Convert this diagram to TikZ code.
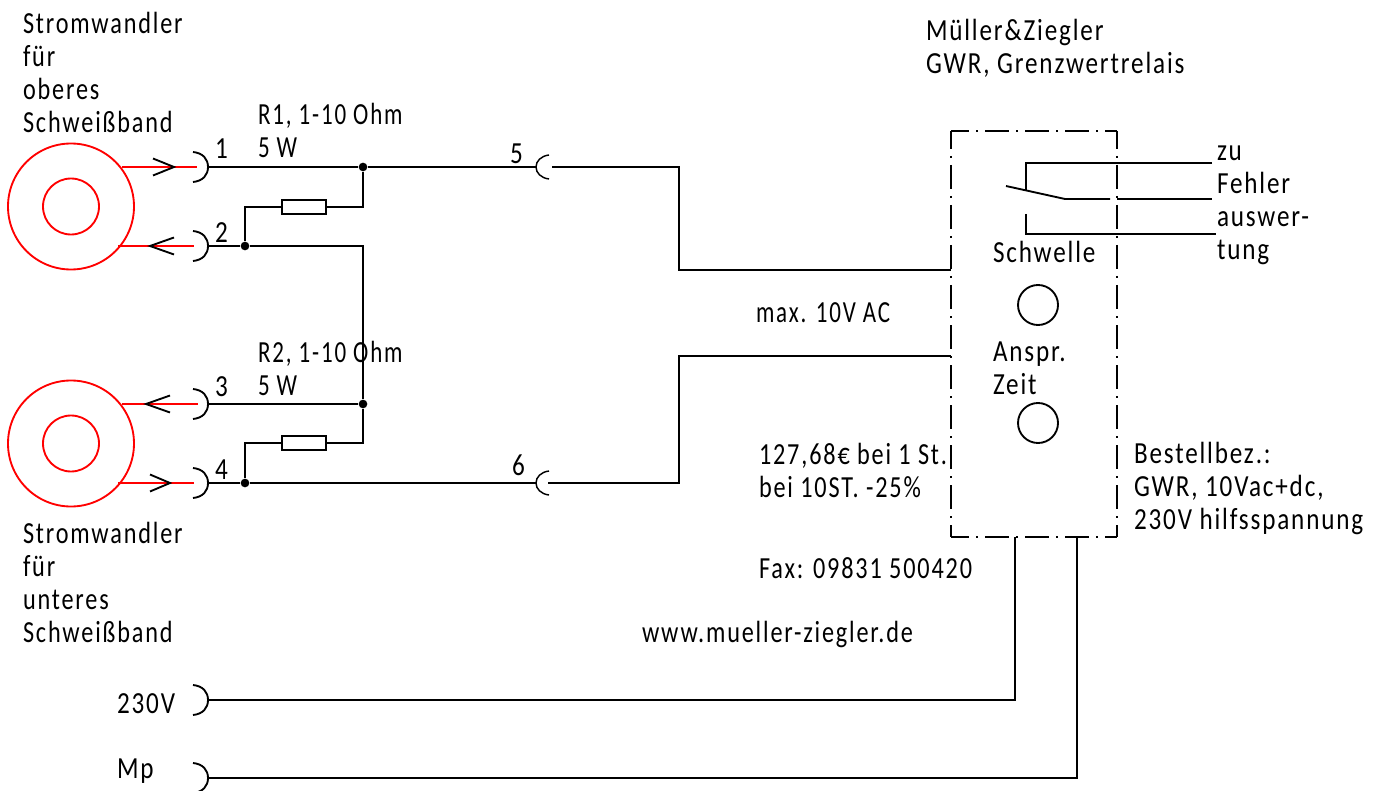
\documentclass[tikz,border=0pt]{standalone}
\usepackage{fontspec}
\setmainfont[LetterSpace=6,FakeStretch=0.82]{Carlito}
\newfontfamily\narrowA[LetterSpace=6,FakeStretch=0.75]{Carlito}
\newfontfamily\narrowB[LetterSpace=6,FakeStretch=0.79]{Carlito}
\tikzset{
  x=0.75pt,y=-0.75pt,
  wire/.style={draw=black,line width=1.4pt,line join=miter},
  redwire/.style={draw=red,line width=1.4pt},
  lbl/.style={inner sep=0pt,outer sep=0pt,anchor=base west,align=left,font=\fontsize{23}{24.75}\selectfont},
  lblA/.style={lbl,font=\fontsize{23}{24.75}\selectfont\narrowA},
  lblB/.style={lbl,font=\fontsize{23}{24.75}\selectfont\narrowB},
  dot/.style={circle,fill=black,inner sep=0pt,minimum size=6.5pt},
  res/.style={rectangle,draw=black,line width=1.4pt,fill=white,minimum width=33pt,minimum height=11pt,inner sep=0pt},
  ring/.style={circle,draw=red,line width=1.4pt,inner sep=0pt},
  knob/.style={circle,draw=black,line width=1.4pt,inner sep=0pt,minimum size=30pt},
  dd/.style={draw=black,line width=1.4pt,dash pattern=on 18pt off 5.25pt on 1.5pt off 5.25pt,dash phase=4.5pt},
}
\newcommand{\plugR}[1]{\draw[wire] ([shift={(193,-15)}]#1) .. controls ([shift={(203,-14)}]#1) and ([shift={(208,-8)}]#1) .. ([shift={(208,0)}]#1) .. controls ([shift={(208,8)}]#1) and ([shift={(203,14)}]#1) .. ([shift={(193,15)}]#1);}
\newcommand{\plugL}[1]{\draw[draw=black,line width=1.1pt] ([shift={(13,-12)}]#1) .. controls ([shift={(5,-11)}]#1) and ([shift={(0,-6)}]#1) .. ([shift={(0,0)}]#1) .. controls ([shift={(0,6)}]#1) and ([shift={(5,11)}]#1) .. ([shift={(13,12)}]#1);}
\begin{document}
\begin{tikzpicture}
\useasboundingbox (0,0) rectangle (1383,791);
\clip (0,0) rectangle (1383,791);
% rings
\node[ring,minimum size=94.5pt] (ringA) at (71,206.5) {};
\node[ring,minimum size=42pt] (coreA) at (71,206.5) {};
\node[ring,minimum size=94.5pt] (ringB) at (71,443.5) {};
\node[ring,minimum size=42pt] (coreB) at (71,443.5) {};
% terminal coordinates
\coordinate (y1) at (0,167); \coordinate (y2) at (0,246);
\coordinate (y3) at (0,404); \coordinate (y4) at (0,483);
\coordinate (y5) at (0,700); \coordinate (y6) at (0,778);
\coordinate (t1) at (208,167); \coordinate (t2) at (208,246);
\coordinate (t3) at (208,404); \coordinate (t4) at (208,483);
\coordinate (t5) at (208,700); \coordinate (t6) at (208,778);
\plugR{y1}\plugR{y2}\plugR{y3}\plugR{y4}\plugR{y5}\plugR{y6}
% red leads
\coordinate (r1a) at (122,167); \coordinate (r1b) at (197,167);
\coordinate (r2a) at (118,246); \coordinate (r2b) at (194,246);
\coordinate (r3a) at (122,404); \coordinate (r3b) at (198,404);
\coordinate (r4a) at (118,483); \coordinate (r4b) at (194,483);
\draw[redwire] (r1a)--(r1b);
\draw[redwire] (r2a)--(r2b);
\draw[redwire] (r3a)--(r3b);
\draw[redwire] (r4a)--(r4b);
% arrows
\draw[wire] (153,158.5)--(174,167)--(153,175.5);
\draw[wire] (174,237.5)--(150,246)--(174,254.5);
\draw[wire] (170,395.5)--(146,404)--(170,412.5);
\draw[wire] (150,474.5)--(170,483)--(150,491.5);
% junctions
\node[dot] (j1) at (363,167) {};
\node[dot] (j2) at (245,246) {};
\node[dot] (j3) at (363,404) {};
\node[dot] (j4) at (245,483) {};
\node[res] (R1) at (304,207) {};
\node[res] (R2) at (304,443) {};
% plug sockets
\coordinate (s5) at (536,167); \coordinate (s6) at (536,483);
\coordinate (s5b) at (552,167); \coordinate (s6b) at (548,483);
\plugL{s5}\plugL{s6}
% box
\coordinate (bNW) at (951,131); \coordinate (bNE) at (1117,131);
\coordinate (bSW) at (951,537); \coordinate (bSE) at (1117,537);
\draw[dd] (bNW)--(bNE);
\draw[dd] (bNW)--(bSW);
\draw[dd] (bNE)--(bSE);
\draw[dd] (bSW)--(bSE);
% wires
\draw[wire] (t1)--(j1)--(s5);
\draw[wire] (s5b)-|(679,270)--(951,270);
\draw[wire] (j1)|-(R1.east);
\draw[wire] (R1.west)-|(j2);
\draw[wire] (t2)--(j2)--(363,246)--(j3);
\draw[wire] (t3)--(j3);
\draw[wire] (j3)|-(R2.east);
\draw[wire] (R2.west)-|(j4);
\draw[wire] (t4)--(j4)--(s6);
\draw[wire] (s6b)-|(679,356)--(951,356);
\draw[draw=black,line width=1.9pt] (753,356)--(849,356);
\draw[wire] (t5)-|(1015,537);
\draw[wire] (t6)-|(1077,537);
% switch
\draw[wire] (1212,163)--(1026,163)--(1026,190);
\draw[wire] (1006,186)--(1065,199)--(1110,199);
\draw[wire] (1117,199)--(1212,199);
\draw[wire] (1026,214)--(1026,234)--(1216,234);
\node[knob] (k1) at (1038,305) {};
\node[knob] (k2) at (1038,423) {};
% labels
\node[lblB] (L1) at (23,133) {Stromwandler\\für\\oberes\\Schweißband};
\node[lblB] (L2) at (23,642) {Stromwandler\\für\\unteres\\Schweißband};
\node[lblA] (L3) at (258,158) {R1, 1-10 Ohm\\5 W};
\node[lblA] (L4) at (258,395) {R2, 1-10 Ohm\\5 W};
\node[lbl] (n1) at (215,159) {1};
\node[lbl] (n2) at (215,243) {2};
\node[lbl] (n3) at (215,396) {3};
\node[lbl] (n4) at (215,479) {4};
\node[lbl] (n5) at (510,164) {5};
\node[lbl] (n6) at (512,475) {6};
\node[lbl] (L5) at (926,74) {Müller\&Ziegler\\GWR, Grenzwertrelais};
\node[lbl] (L6) at (993,263) {Schwelle};
\node[lbl] (L7) at (993,394) {Anspr.\\Zeit};
\node[lblA] (L8) at (756,322) {max. 10V AC};
\node[lblB] (L9) at (759,497) {127,68€ bei 1 St.\\bei 10ST. -25\%};
\node[lblB] (L10) at (759,578) {Fax: 09831 500420};
\node[lblB] (L11) at (642,642) {www.mueller-ziegler.de};
\node[lbl] (L12) at (1134,529) {Bestellbez.:\\GWR, 10Vac+dc,\\230V hilfsspannung};
\node[lbl] (L13) at (1217,260) {zu\\Fehler\\auswer-\\tung};
\node[lbl] (L14) at (117,713) {230V};
\node[lbl] (L15) at (117,778) {Mp};
\end{tikzpicture}
\end{document}
